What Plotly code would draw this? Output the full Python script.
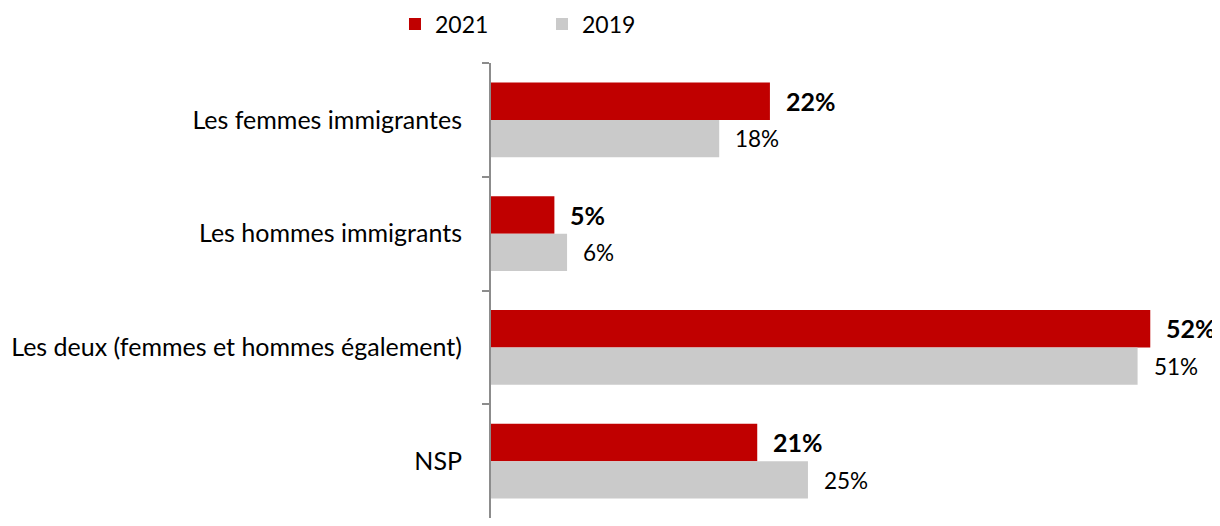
import plotly.graph_objects as go

categories = ["Les femmes immigrantes", "Les hommes immigrants",
              "Les deux (femmes et hommes également)", "NSP"]
values_2021 = [22, 5, 52, 21]
values_2019 = [18, 6, 51, 25]
series_names = ["2021", "2019"]

RED = "#C00000"
GREY = "#CACACA"
FONT = "Lato"

fig = go.Figure()
fig.add_trace(go.Bar(y=categories, x=values_2021, orientation="h", name=series_names[0],
                     marker=dict(color=RED, line=dict(width=0))))
fig.add_trace(go.Bar(y=categories, x=values_2019, orientation="h", name=series_names[1],
                     marker=dict(color=GREY, line=dict(width=0))))

for c, v in zip(categories, values_2021):
    fig.add_annotation(x=v, y=c, text=f"<b>{v}%</b>", showarrow=False, xanchor="left",
                       xshift=14, yshift=19, font=dict(family=FONT, size=25, color="#000"))
for c, v in zip(categories, values_2019):
    fig.add_annotation(x=v, y=c, text=f"{v}%", showarrow=False, xanchor="left",
                       xshift=14, yshift=-19, font=dict(family=FONT, size=22.5, color="#000"))

# page body has an 8px default margin; keep the figure inside the window (no scrollbars)
fig.update_layout(
    width=1212, height=510,
    margin=dict(l=483, r=0, t=55, b=0, autoexpand=False),
    paper_bgcolor="white", plot_bgcolor="white",
    barmode="group", bargap=0.345, bargroupgap=0,
    font=dict(family=FONT, size=20, color="#000"),
    showlegend=True,
    legend=dict(orientation="h", xref="paper", yref="paper", x=-0.1317, y=1.0857,
                xanchor="left", yanchor="middle", font=dict(size=23),
                entrywidth=102, entrywidthmode="pixels", itemwidth=30,
                traceorder="normal"),
    xaxis=dict(range=[0, 57.5], visible=False, fixedrange=True),
    yaxis=dict(autorange="reversed", type="category", showline=True, linecolor="#8C8C8C",
               linewidth=2, ticks="outside", ticklen=7, tickcolor="#8C8C8C", tickwidth=2,
               tickson="boundaries", ticklabelstandoff=22, showgrid=False,
               tickfont=dict(family=FONT, size=25, color="#000")),
)

fig.write_html("out.html")
